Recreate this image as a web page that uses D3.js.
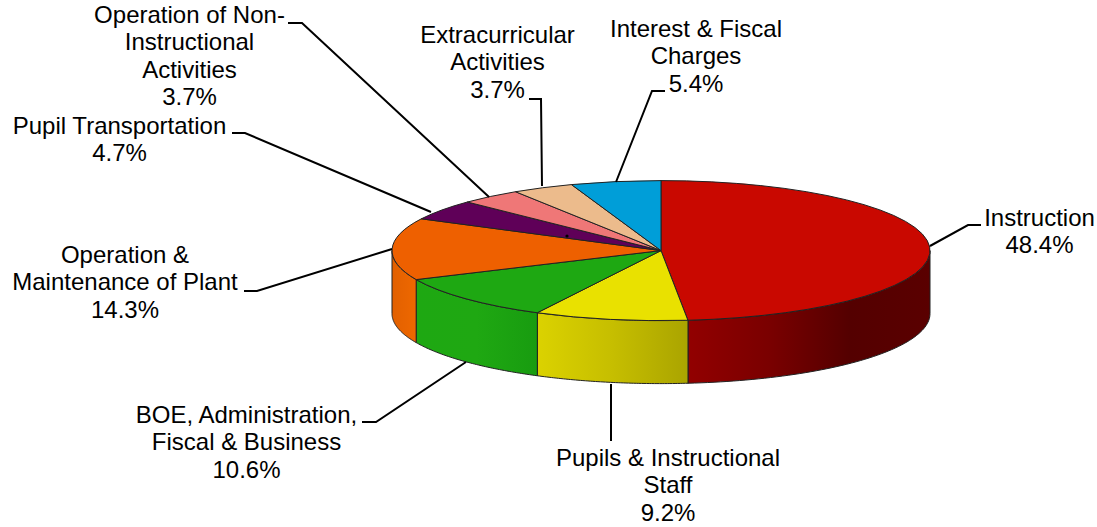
<!DOCTYPE html>
<html>
<head>
<meta charset="utf-8">
<style>
  html, body { margin: 0; padding: 0; background: #fff; }
  text { font-family: "Liberation Sans", Arial, sans-serif; font-size: 24px; fill: #000; }
</style>
<script src="https://cdn.jsdelivr.net/npm/d3@7"></script>
</head>
<body>
<div id="chart"></div>
<script>
var width = 1097;
var height = 527;

var categories = ['Instruction', 'Pupils & Instructional Staff', 'BOE, Administration, Fiscal & Business',
  'Operation & Maintenance of Plant', 'Pupil Transportation', 'Operation of Non-Instructional Activities',
  'Extracurricular Activities', 'Interest & Fiscal Charges'];
var values = [48.4, 9.2, 10.6, 14.3, 4.7, 3.7, 3.7, 5.4];
var colors = ['#c90800', '#e9e100', '#1ea812', '#ee6000', '#5f0058', '#ef7777', '#ecbb8c', '#009ed8'];

// wall shading, left to right across the visible side of each slice
var wallStops = [
  ['#920000', '#7a0000', '#540000', '#5a0000'],
  ['#dbd200', '#c6be00', '#aaa400'],
  ['#1ea812', '#1fa812', '#189c10'],
  ['#e26000', '#ee6800']
];

// how each label is broken into lines
var labelLines = [
  ['Instruction', '48.4%'],
  ['Pupils & Instructional', 'Staff', '9.2%'],
  ['BOE, Administration,', 'Fiscal & Business', '10.6%'],
  ['Operation &', 'Maintenance of Plant', '14.3%'],
  ['Pupil Transportation', '4.7%'],
  ['Operation of Non-', 'Instructional', 'Activities', '3.7%'],
  ['Extracurricular', 'Activities', '3.7%'],
  ['Interest & Fiscal', 'Charges', '5.4%']
];
var labelCentres = [[1039.5, 226], [668, 466], [246.5, 423], [125, 263], [119.5, 134], [189.5, 23], [497.5, 43], [696, 37]];
var lineHeight = 27.4;

// leader: rim point, elbow, end
var leaders = [
  [[930, 246], [968, 225], [981, 225]],
  [[611, 384], [611, 441]],
  [[466, 362], [376, 422], [362, 422]],
  [[392, 249], [257, 291], [244, 291]],
  [[431, 212], [245, 133], [232, 133]],
  [[489, 197], [302, 23], [288, 23]],
  [[542, 186], [541, 99], [529, 99]],
  [[616, 182], [652, 91], [665, 91]]
];

var cx = 661, cy = 250.6, rx = 269, ry = 70, depth = 63;

var svg = d3.select('#chart')
  .append('svg')
  .attr('width', width)
  .attr('height', height)
  .style('display', 'block');

var pieData = d3.pie().sort(null)(values);

var scaleX = d3.scaleLinear().domain([-1, 1]).range([cx - rx, cx + rx]);
var scaleY = d3.scaleLinear().domain([-1, 1]).range([cy - ry, cy + ry]);

function rimPoint(angle, drop) {
  return [scaleX(Math.sin(angle)), scaleY(-Math.cos(angle)) + drop];
}

// side walls, only the front half of the ellipse shows
var defs = svg.append('defs');
var walls = svg.append('g');

pieData.forEach(function(d, i) {
  if (!wallStops[i]) return;
  var start = Math.max(d.startAngle, Math.PI / 2);
  var end = Math.min(d.endAngle, Math.PI * 1.5);
  var steps = d3.range(0, 61).map(function(k) { return start + (end - start) * k / 60; });
  var top = steps.map(function(a) { return rimPoint(a, 0); });
  var bottom = steps.map(function(a) { return rimPoint(a, depth); }).reverse();
  var xs = top.map(function(p) { return p[0]; });

  var grad = defs.append('linearGradient')
    .attr('id', 'wall' + i)
    .attr('gradientUnits', 'userSpaceOnUse')
    .attr('x1', d3.min(xs)).attr('x2', d3.max(xs))
    .attr('y1', 0).attr('y2', 0);
  grad.selectAll('stop')
    .data(wallStops[i])
    .enter().append('stop')
    .attr('offset', function(c, k) { return k / (wallStops[i].length - 1); })
    .attr('stop-color', function(c) { return c; });

  walls.append('path')
    .attr('d', d3.line()(top.concat(bottom)) + 'Z')
    .attr('fill', 'url(#wall' + i + ')')
    .attr('stroke', '#222')
    .attr('stroke-width', 1);
});

// top of the pie: a unit arc squashed into an ellipse
var arc = d3.arc().innerRadius(0).outerRadius(1);

svg.append('g')
  .attr('transform', 'translate(' + cx + ',' + cy + ') scale(' + rx + ',' + ry + ')')
  .selectAll('path')
  .data(pieData)
  .enter().append('path')
  .attr('d', arc)
  .attr('fill', function(d, i) { return colors[i]; })
  .attr('stroke', '#222')
  .attr('stroke-width', 1)
  .attr('vector-effect', 'non-scaling-stroke');

// stray dot in the purple slice
svg.append('circle')
  .attr('cx', 567)
  .attr('cy', 236)
  .attr('r', 1.6)
  .attr('fill', '#000');

// leader lines
svg.append('g')
  .selectAll('path')
  .data(leaders)
  .enter().append('path')
  .attr('d', function(d) { return d3.line()(d); })
  .attr('fill', 'none')
  .attr('stroke', '#000')
  .attr('stroke-width', 2);

// labels
var label = svg.append('g')
  .selectAll('text')
  .data(labelLines)
  .enter().append('text')
  .attr('text-anchor', 'middle')
  .attr('aria-label', function(d, i) { return categories[i]; });

label.selectAll('tspan')
  .data(function(d, i) {
    return d.map(function(line, k) {
      return { line: line, x: labelCentres[i][0], y: labelCentres[i][1] + k * lineHeight };
    });
  })
  .enter().append('tspan')
  .attr('x', function(d) { return d.x; })
  .attr('y', function(d) { return d.y; })
  .text(function(d) { return d.line; });
</script>
</body>
</html>
